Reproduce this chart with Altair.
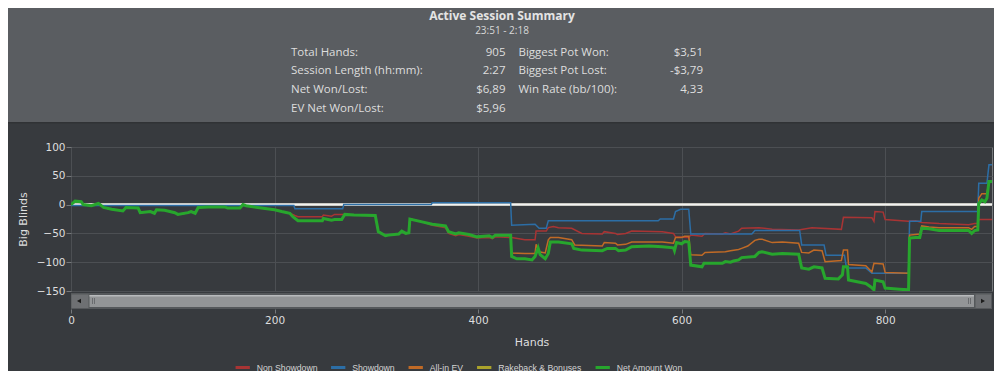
import altair as alt
import pandas as pd

SERIES = ["Non Showdown", "Showdown", "All-in EV", "Rakeback & Bonuses", "Net Amount Won"]
COLORS = ["#a83434", "#2c6ea6", "#c06a26", "#aaa22b", "#27a62d"]

# Net Amount Won
net_hands = [0, 4, 10, 12, 20, 27, 32, 40, 51, 54, 66, 68, 78, 82, 84, 92, 102, 105, 115, 118,
             122, 125, 135, 151, 154, 166, 169, 172, 187, 200, 207, 215, 218, 223, 247, 248, 256, 259, 266, 269,
             278, 299, 302, 309, 312, 322, 325, 329, 332, 333, 345, 355, 368, 371, 378, 381, 391, 399, 411, 414,
             417, 432, 433, 438, 446, 453, 456, 459, 461, 466, 469, 471, 479, 492, 494, 502, 522, 527, 535, 538,
             545, 551, 568, 581, 592, 593, 595, 600, 603, 607, 609, 620, 622, 640, 643, 648, 651, 656, 659, 672,
             676, 679, 689, 699, 715, 718, 725, 730, 738, 741, 754, 758, 759, 763, 764, 781, 786, 789, 790, 798,
             800, 814, 823, 824, 830, 834, 836, 843, 853, 869, 882, 885, 888, 891, 892, 895, 898, 900, 902, 905]
net_vals = [0, 6, 5, 0, -2, 2, -5, -8, -11, -5, -6, -14, -12, -15, -9, -10, -14, -17, -14, -12,
            -15, -5, -4, -4, -6, -6, 0, -2, -6, -9, -12, -15, -21, -28, -28, -24, -27, -26, -26, -17,
            -18, -19, -47, -54, -53, -51, -46, -50, -49, -25, -30, -34, -37, -47, -51, -49, -52, -56, -54, -57,
            -53, -53, -90, -94, -94, -96, -90, -75, -87, -94, -85, -65, -65, -68, -76, -79, -80, -76, -76, -80,
            -79, -73, -72, -73, -75, -80, -66, -68, -64, -65, -105, -108, -102, -102, -99, -100, -98, -96, -92, -90,
            -83, -82, -86, -85, -86, -110, -112, -108, -110, -128, -129, -122, -108, -108, -131, -137, -143, -148, -131, -134,
            -145, -147, -148, -58, -57, -57, -41, -42, -45, -45, -45, -50, -45, -44, 2, 8, 5, 11, 40, 40]

# Showdown
sd_hands = [0, 219, 220, 267, 268, 354, 355, 432, 433, 456, 460, 467, 469, 577, 579, 592, 594, 599, 607, 609,
            669, 672, 716, 718, 740, 742, 760, 762, 781, 787, 823, 824, 835, 836, 891, 892, 900, 902, 905]
sd_vals = [-1.5, -1.5, -7, -7, 0, 0, 3, 3, -36, -34, -41, -41, -28, -28, -25, -25, -12, -8, -8, -51,
           -51, -45, -45, -70, -70, -88, -88, -110, -110, -119, -119, -29, -29, -12, -12, 37, 37, 69, 69]

# Non Showdown
nsd_hands = [0, 4, 10, 12, 20, 27, 32, 40, 51, 54, 66, 68, 78, 82, 84, 92, 102, 105, 115, 118,
             122, 125, 135, 151, 154, 166, 169, 172, 187, 200, 207, 215, 220, 223, 247, 248, 256, 259, 267, 269,
             278, 299, 302, 309, 312, 322, 325, 329, 332, 333, 345, 355, 368, 371, 378, 381, 391, 399, 411, 414,
             417, 432, 433, 446, 456, 457, 467, 469, 474, 479, 492, 502, 522, 524, 535, 537, 545, 551, 581, 592,
             594, 607, 609, 620, 623, 640, 643, 648, 656, 659, 676, 689, 715, 728, 757, 759, 787, 789, 790, 798,
             800, 823, 830, 836, 853, 882, 888, 891, 892, 905]
nsd_vals = [0, 6, 5, 0, -2, 2, -5, -8, -11, -5, -6, -14, -12, -15, -9, -10, -14, -17, -14, -12,
            -15, -5, -4, -4, -6, -6, 0, -2, -6, -9, -12, -15, -19, -21, -21, -18, -20, -17, -17, -17,
            -18, -19, -47, -54, -53, -51, -46, -50, -49, -25, -30, -36, -40, -50, -54, -52, -55, -58, -57, -59,
            -56, -57, -57, -61, -61, -46, -46, -40, -38, -40, -41, -50, -51, -47, -50, -52, -50, -46, -47, -50,
            -56, -57, -53, -55, -50, -51, -49, -51, -46, -41, -40, -43, -44, -40, -43, -22, -23, -29, -12, -13,
            -26, -29, -28, -31, -33, -35, -33, -33, -26, -26]

# All-in EV
ev_hands = [0, 4, 10, 12, 20, 27, 32, 40, 51, 54, 66, 68, 78, 82, 84, 92, 102, 105, 115, 118,
            122, 125, 135, 151, 154, 166, 169, 172, 187, 200, 207, 215, 218, 223, 247, 248, 256, 259, 266, 269,
            278, 299, 302, 309, 312, 322, 325, 329, 332, 333, 345, 355, 368, 371, 378, 381, 391, 399, 411, 414,
            417, 432,
            433, 446, 456, 457, 460, 466, 469, 471, 479, 492, 495, 522, 524, 535, 537, 545, 551, 581, 592, 594,
            600, 603, 607, 609, 620, 623, 643, 648, 656, 659, 665, 672, 676, 679, 689, 699, 715, 718, 725, 730,
            738, 741, 757, 759, 763, 764, 781, 787, 789, 798, 800, 823, 824, 834, 836, 843, 853, 882, 885, 888,
            891, 892, 895, 900, 902, 905]
ev_vals = [0, 6, 5, 0, -2, 2, -5, -8, -11, -5, -6, -14, -12, -15, -9, -10, -14, -17, -14, -12,
           -15, -5, -4, -4, -6, -6, 0, -2, -6, -9, -12, -15, -21, -28, -28, -24, -27, -26, -26, -17,
           -18, -19, -47, -54, -53, -51, -46, -50, -49, -25, -30, -34, -37, -47, -51, -49, -52, -56, -54, -57,
           -53, -53,
           -84, -85, -85, -69, -82, -84, -61, -57, -57, -61, -70, -72, -66, -67, -70, -69, -65, -65, -67, -57,
           -57, -55, -55, -87, -88, -83, -82, -80, -78, -76, -72, -62, -60, -60, -66, -65, -67, -83, -84, -79,
           -80, -99, -97, -79, -79, -104, -106, -117, -102, -103, -118, -119, -53, -51, -37, -39, -40, -40, -43, -38,
           -38, 11, 19, 19, 40, 40]

# Rakeback & Bonuses
rb_hands = [0, 905]
rb_vals = [0, 0]

x_ticks = [0, 200, 400, 600, 800]
y_ticks = [-150, -100, -50, 0, 50, 100]

summary_title = "Active Session Summary"
summary_time = "23:51 - 2:18"
left_labels = ["Total Hands:", "Session Length (hh:mm):", "Net Won/Lost:", "EV Net Won/Lost:"]
left_values = ["905", "2:27", "$6,89", "$5,96"]
right_labels = ["Biggest Pot Won:", "Biggest Pot Lost:", "Win Rate (bb/100):"]
right_values = ["$3,51", "-$3,79", "4,33"]

# ---------------------------------------------------------------
frames = []
for name, hs, vs in [(SERIES[0], nsd_hands, nsd_vals), (SERIES[1], sd_hands, sd_vals),
                     (SERIES[2], ev_hands, ev_vals), (SERIES[3], rb_hands, rb_vals),
                     (SERIES[4], net_hands, net_vals)]:
    frames.append(pd.DataFrame({"hand": hs, "bb": vs, "series": name, "idx": list(range(len(hs)))}))
lines_df = pd.concat(frames, ignore_index=True)

W, H = 921, 144
PAD_L, PAD_T = 63, 139
TXT = "#dedede"
AXIS_FONT = "DejaVu Sans"

x_scale = alt.Scale(domain=[0, 905], nice=False, zero=False)
y_scale = alt.Scale(domain=[-150, 100], nice=False, zero=False)

x_axis = alt.Axis(values=x_ticks, format="d", grid=True, gridColor="#4c4f53", domain=False,
                  ticks=True, tickColor="#75787b", tickSize=4, offset=18, labelFlush=False,
                  labelColor=TXT, labelFont=AXIS_FONT, labelFontSize=10.5, labelPadding=2,
                  titleColor=TXT, titleFont=AXIS_FONT, titleFontSize=11, titleFontWeight="normal",
                  titlePadding=11)
y_axis = alt.Axis(values=y_ticks, grid=True, gridColor="#4c4f53", domain=False,
                  ticks=True, tickColor="#75787b", tickSize=5, labelFlush=False,
                  labelColor=TXT, labelFont=AXIS_FONT, labelFontSize=10.5, labelPadding=1,
                  titleColor=TXT, titleFont=AXIS_FONT, titleFontSize=11, titleFontWeight="normal",
                  titlePadding=8)

color = alt.Color("series:N", scale=alt.Scale(domain=SERIES, range=COLORS),
                  legend=alt.Legend(orient="none", legendX=162.7, legendY=211.5, direction="horizontal",
                                    title=None, symbolType="stroke", symbolSize=205, symbolStrokeWidth=3,
                                    labelFont="Liberation Sans", labelFontSize=8.7, labelColor="#d4d4d4",
                                    labelOffset=5, columnPadding=6.5, padding=0))


def line_layer(name, width):
    return alt.Chart(lines_df).transform_filter(alt.datum.series == name).mark_line(
        strokeWidth=width, clip=True, interpolate="linear").encode(
        x=alt.X("hand:Q", scale=x_scale, axis=x_axis, title="Hands"),
        y=alt.Y("bb:Q", scale=y_scale, axis=y_axis, title="Big Blinds"),
        color=color,
        order="idx:Q")


one = pd.DataFrame({"k": [0]})


def rect(x1, x2, y1, y2, fill):
    return alt.Chart(one).mark_rect(color=fill).encode(
        x=alt.value(x1), x2=alt.value(x2), y=alt.value(y1), y2=alt.value(y2))


def text_layer(txt, x, y, **kw):
    return alt.Chart(pd.DataFrame({"t": [txt]})).mark_text(baseline="middle", **kw).encode(
        text="t:N", x=alt.value(x), y=alt.value(y))


layers = []
# header band
layers.append(rect(-PAD_L, W + 2, -PAD_T, -24, "#5a5d61"))
layers.append(rect(-PAD_L, W + 2, -25, -23.5, "#303235"))
layers.append(text_layer(summary_title, 431, -131.5, font="Open Sans", fontSize=12, fontWeight="bold",
                         color="#e4e4e4", align="center"))
layers.append(text_layer(summary_time, 431, -116, font="Open Sans", fontSize=10, color="#d8d8d8",
                         align="center"))
ROW0, STEP = -94.5, 18.9
for i, (lab, val) in enumerate(zip(left_labels, left_values)):
    layers.append(text_layer(lab, 220, ROW0 + i * STEP, font="Open Sans", fontSize=11.5, color=TXT, align="left"))
    layers.append(text_layer(val, 434.5, ROW0 + i * STEP, font="Open Sans", fontSize=11.5, color=TXT, align="right"))
for i, (lab, val) in enumerate(zip(right_labels, right_values)):
    layers.append(text_layer(lab, 447.5, ROW0 + i * STEP, font="Open Sans", fontSize=11.5, color=TXT, align="left"))
    layers.append(text_layer(val, 632, ROW0 + i * STEP, font="Open Sans", fontSize=11.5, color=TXT, align="right"))

# scrollbar
layers.append(rect(0, W, 146, 162, "#55585b"))
layers.append(rect(0.5, 17.5, 147.5, 161, "#6e7073"))
layers.append(rect(904.5, 920, 147.5, 161, "#6e7073"))
layers.append(rect(18.5, 903, 148, 160, "#939597"))
layers.append(rect(18.5, 903, 148, 149.5, "#b8babc"))
layers.append(alt.Chart(one).mark_point(shape="triangle-left", filled=True, size=22, color="#1c1c1c", opacity=1).encode(
    x=alt.value(8), y=alt.value(154)))
layers.append(alt.Chart(one).mark_point(shape="triangle-right", filled=True, size=22, color="#1c1c1c", opacity=1).encode(
    x=alt.value(912), y=alt.value(154)))
for gx in [21.5, 23.5, 897.5, 899.5]:
    layers.append(alt.Chart(one).mark_rule(color="#6a6c6f", strokeWidth=1).encode(
        x=alt.value(gx), y=alt.value(151), y2=alt.value(157)))

# series
layers.append(line_layer(SERIES[3], 1.5))
layers.append(alt.Chart(pd.DataFrame({"bb": [0]})).mark_rule(color="#f2f2f2", strokeWidth=2.5).encode(
    y=alt.Y("bb:Q", scale=y_scale, axis=y_axis, title="Big Blinds")))
layers.append(line_layer(SERIES[0], 1.5))
layers.append(line_layer(SERIES[1], 1.5))
layers.append(line_layer(SERIES[2], 1.5))
layers.append(line_layer(SERIES[4], 3))

chart = alt.layer(*layers).properties(
    width=W, height=H,
    autosize=alt.AutoSizeParams(type="none"),
    padding={"left": PAD_L, "top": PAD_T, "right": 2, "bottom": 80},
    background="#373a3e",
).configure_view(stroke="#76797c", strokeWidth=1)

chart.save("out.html", embed_options={"renderer": "svg", "actions": False})
